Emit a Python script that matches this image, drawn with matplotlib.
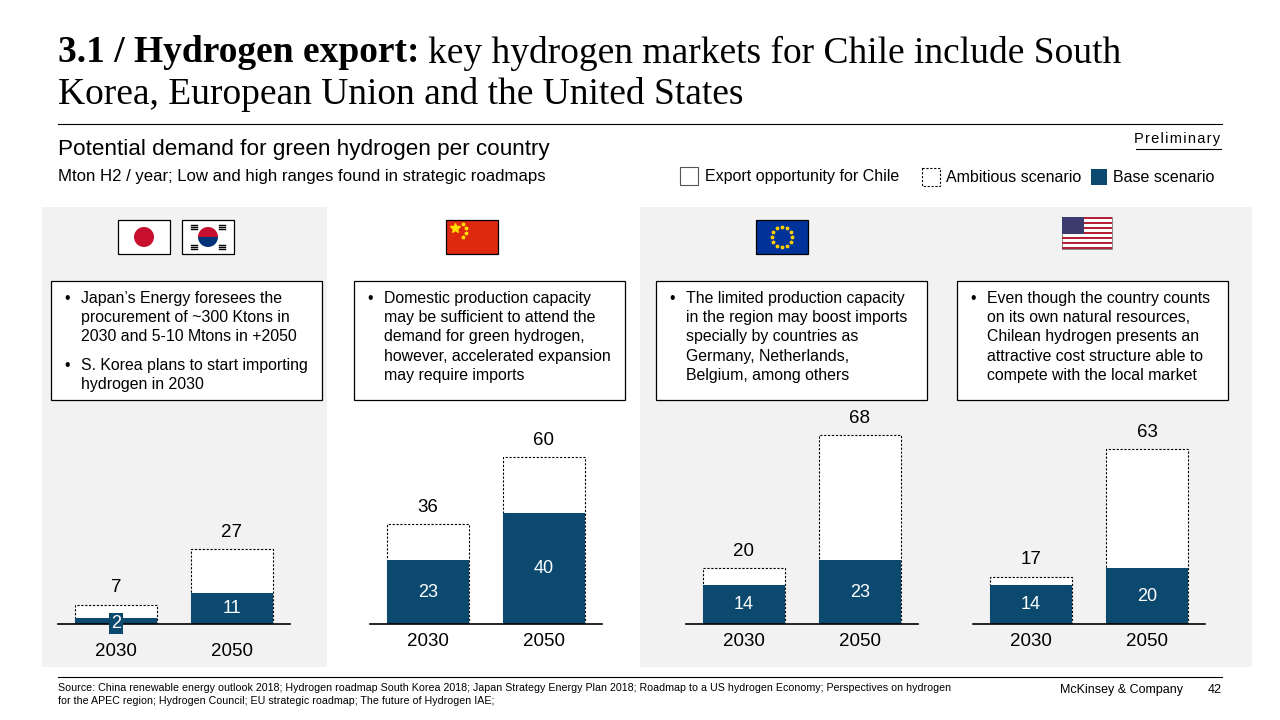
import matplotlib
matplotlib.use("Agg")
import matplotlib.pyplot as plt
from matplotlib.patches import Rectangle, Circle, Wedge
import matplotlib.transforms as mtrans
import numpy as np

years = ["2030", "2050"]
regions = ["Japan & S. Korea", "China", "European Union", "United States"]
base = [[2, 11], [23, 40], [14, 23], [14, 20]]
ambitious = [[7, 27], [36, 60], [20, 68], [17, 63]]
notes = [
    [["Japan’s Energy foresees the", "procurement of ~300 Ktons in", "2030 and 5-10 Mtons in +2050"],
     ["S. Korea plans to start importing", "hydrogen in 2030"]],
    [["Domestic production capacity", "may be sufficient to attend the", "demand for green hydrogen,",
      "however, accelerated expansion", "may require imports"]],
    [["The limited production capacity", "in the region may boost imports", "specially by countries as",
      "Germany, Netherlands,", "Belgium, among others"]],
    [["Even though the country counts", "on its own natural resources,", "Chilean hydrogen presents an",
      "attractive cost structure able to", "compete with the local market"]],
]

NAVY = "#0b4a6e"
GREY = "#f2f2f2"
W, H = 1280, 720
fig = plt.figure(figsize=(12.8, 7.2), dpi=100)
ov = fig.add_axes([0, 0, 1, 1])
ov.set_xlim(0, W); ov.set_ylim(H, 0); ov.axis("off")
SANS = "Liberation Sans"
SERIF = "Liberation Serif"

# title
TS = 27
t1 = ov.text(58, 53, "3.1 / Hydrogen export:", fontsize=TS, fontweight="bold", family=SERIF, va="center")
fig.canvas.draw()
bb = t1.get_window_extent()
ov.text(bb.x1 + 9, 53, "key hydrogen markets for Chile include South", fontsize=TS, family=SERIF, va="center",
        transform=mtrans.blended_transform_factory(mtrans.IdentityTransform(), ov.transData))
ov.text(58, 95, "Korea, European Union and the United States", fontsize=TS, family=SERIF, va="center")
ov.plot([58, 1222], [124, 124], color="black", lw=0.8)
ov.text(58, 149, "Potential demand for green hydrogen per country", fontsize=16.2, family=SANS, va="center")
ov.text(58, 176, "Mton H2 / year; Low and high ranges found in strategic roadmaps", fontsize=12.1, family=SANS, va="center")
ov.text(1220, 139, "\u200a".join("Preliminary"), fontsize=10.5, family=SANS, va="center", ha="right")
ov.plot([1136, 1221], [149, 149], color="black", lw=0.8)

# legend
ov.add_patch(Rectangle((680, 167), 18, 18, fc="white", ec="#555", lw=0.8))
ov.text(705, 176, "Export opportunity for Chile", fontsize=11.5, family=SANS, va="center")
ov.add_patch(Rectangle((922, 168), 18, 18, fc="white", ec="black", lw=0.8, ls=(0, (2, 1.5))))
ov.text(946, 178, "Ambitious scenario", fontsize=11.5, family=SANS, va="center")
ov.add_patch(Rectangle((1091, 169), 16, 16, fc=NAVY, ec="none"))
ov.text(1113, 178, "Base scenario", fontsize=11.5, family=SANS, va="center")

# backgrounds
ov.add_patch(Rectangle((42, 207), 285, 460, fc=GREY, ec="none", zorder=0))
ov.add_patch(Rectangle((640, 207), 612, 460, fc=GREY, ec="none", zorder=0))

# note boxes
boxes = [51, 354, 656, 957]
for bx, paras in zip(boxes, notes):
    ov.add_patch(Rectangle((bx, 281), 271, 119, fc="white", ec="black", lw=0.9, zorder=2))
    y = 298
    for para in paras:
        ov.text(bx + 13, y, "•", fontsize=11.4, family=SANS, va="center", zorder=3)
        for line in para:
            ov.text(bx + 30, y, line, fontsize=11.4, family=SANS, va="center", zorder=3)
            y += 19.4
        y += 9

# flags
def frame(x, y, w=52, h=34):
    ov.add_patch(Rectangle((x, y), w, h, fc="white", ec="black", lw=0.9, zorder=2))
frame(118, 220)
ov.add_patch(Circle((144, 237), 10, fc="#c8102e", ec="none", zorder=3))
frame(182, 220)
ov.add_patch(Wedge((208, 237), 10, 180, 360, fc="#c8102e", ec="none", zorder=3))
ov.add_patch(Wedge((208, 237), 10, 0, 180, fc="#003478", ec="none", zorder=3))
for dx, dy in [(-14, -10), (14, -10), (-14, 10), (14, 10)]:
    for k in range(3):
        ov.plot([208 + dx - 3, 208 + dx + 3], [237 + dy - 2 + k * 2, 237 + dy - 2 + k * 2], color="black", lw=1, zorder=3)
ov.add_patch(Rectangle((446, 220), 52, 34, fc="#de2910", ec="black", lw=0.9, zorder=2))
ov.plot([455], [228], marker="*", color="#ffde00", ms=7, zorder=3)
for sx, sy in [(463, 224), (466, 228), (466, 233), (463, 237)]:
    ov.plot([sx], [sy], marker="*", color="#ffde00", ms=2.5, zorder=3)
ov.add_patch(Rectangle((756, 220), 52, 34, fc="#003399", ec="black", lw=0.9, zorder=2))
for a in np.linspace(0, 2 * np.pi, 13)[:-1]:
    ov.plot([782 + 10 * np.cos(a)], [237 + 10 * np.sin(a)], marker="*", color="#ffcc00", ms=2.5, zorder=3)
ov.add_patch(Rectangle((1062, 217), 50, 32, fc="white", ec="#777", lw=0.6, zorder=2))
for i in range(13):
    if i % 2 == 0:
        ov.add_patch(Rectangle((1062, 217 + i * 32 / 13), 50, 32 / 13, fc="#b22234", ec="none", zorder=3))
ov.add_patch(Rectangle((1062, 217), 22, 32 * 7 / 13, fc="#3c3b6e", ec="none", zorder=4))

# bars
scale = 2.78  # px per unit
left_px = [58, 370, 686, 973]
base_px = 624
top_px = 380
for i, lx in enumerate(left_px):
    ax = fig.add_axes([lx / W, (H - base_px) / H, 232 / W, (base_px - top_px) / H])
    ax.set_xlim(-0.5, 1.5)
    ax.set_ylim(0, (base_px - top_px) / scale)
    ax.axis("off")
    ax.patch.set_alpha(0)
    x = np.arange(2)
    ax.bar(x, ambitious[i], width=0.707, color="white", edgecolor="black", lw=0.8, ls=(0, (2, 1.5)))
    ax.bar(x, base[i], width=0.707, color=NAVY, edgecolor="none")
    ax.axhline(0, color="black", lw=1.2, clip_on=False)
    for j in range(2):
        ax.text(x[j], ambitious[i][j] + 3, str(ambitious[i][j]), ha="center", va="bottom", fontsize=13.5, family=SANS)
        if base[i][j] < 5:
            ax.text(x[j], base[i][j] / 2 - 0.8, str(base[i][j]), ha="center", va="center", fontsize=13,
                    family=SANS, color="white", bbox=dict(fc=NAVY, ec="none", pad=1.5), clip_on=False)
        else:
            ax.text(x[j], base[i][j] / 2, str(base[i][j]), ha="center", va="center", fontsize=13,
                    family=SANS, color="white")
        yoff = -27 / scale if i == 0 else -18 / scale
        ax.text(x[j], yoff, years[j], ha="center", va="center", fontsize=13.5, family=SANS, clip_on=False)

# footer
ov.plot([58, 1222], [677, 677], color="black", lw=0.8)
ov.text(58, 688, "Source: China renewable energy outlook 2018; Hydrogen roadmap South Korea 2018; Japan Strategy Energy Plan 2018; Roadmap to a US hydrogen Economy; Perspectives on hydrogen",
        fontsize=7.7, family=SANS, va="center")
ov.text(58, 701, "for the APEC region; Hydrogen Council; EU strategic roadmap; The future of Hydrogen IAE;",
        fontsize=7.7, family=SANS, va="center")
ov.text(1183, 690, "McKinsey & Company", fontsize=9, family=SANS, va="center", ha="right")
ov.text(1222, 690, "42", fontsize=9, family=SANS, va="center", ha="right")

fig.savefig("out.png", dpi=100)
